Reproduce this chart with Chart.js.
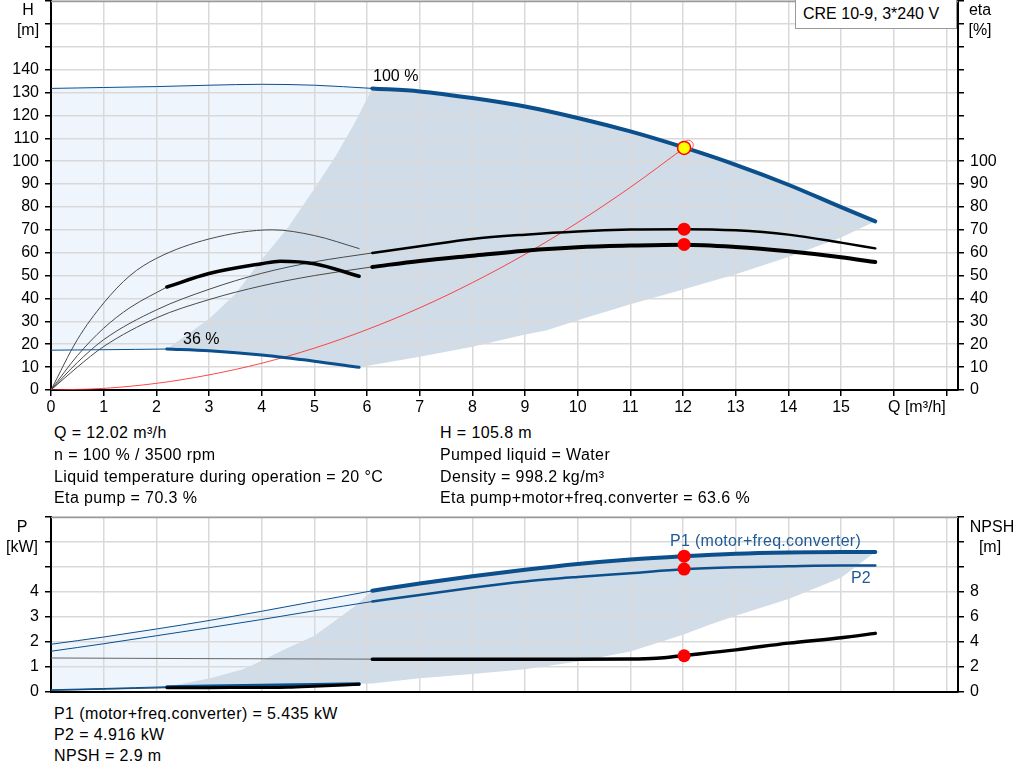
<!DOCTYPE html>
<html>
<head>
<meta charset="utf-8">
<script src="https://cdn.jsdelivr.net/npm/chart.js@4.4.1/dist/chart.umd.min.js"></script>
<style>
html,body{margin:0;padding:0;background:#fff;width:1024px;height:781px;overflow:hidden;font-family:"Liberation Sans",Arial,sans-serif;}
.t{position:absolute;font-size:16px;color:#000;white-space:nowrap;line-height:16px;}
.info{letter-spacing:0.4px;}
.c{text-align:center;}
#w1{position:absolute;left:0;top:0;width:1024px;height:420px;}
#w2{position:absolute;left:0;top:505px;width:1024px;height:200px;}
#box{position:absolute;left:795px;top:0;width:162px;height:29px;border:1px solid #9a9a9a;border-top:none;background:#fff;font-size:16px;line-height:28px;padding-left:7px;box-sizing:border-box;}
.blue{color:#1f5a96;}
</style>
</head>
<body>
<div id="w1"><canvas id="c1" width="1024" height="420"></canvas></div>
<div id="w2"><canvas id="c2" width="1024" height="200"></canvas></div>

<div id="box">CRE 10-9, 3*240 V</div>
<div class="t c" style="left:8px;top:2px;width:40px;">H</div>
<div class="t c" style="left:8px;top:22px;width:40px;">[m]</div>
<div class="t c" style="left:960px;top:2px;width:40px;">eta</div>
<div class="t c" style="left:960px;top:22px;width:40px;">[%]</div>
<div class="t" style="left:373px;top:68px;">100 %</div>
<div class="t" style="left:183px;top:331px;">36 %</div>
<div class="t" style="left:888px;top:399px;">Q [m³/h]</div>

<div class="t info" style="left:54px;top:425px;">Q = 12.02 m³/h</div>
<div class="t info" style="left:54px;top:447px;">n = 100 % / 3500 rpm</div>
<div class="t info" style="left:54px;top:469px;">Liquid temperature during operation = 20 °C</div>
<div class="t info" style="left:54px;top:490px;">Eta pump = 70.3 %</div>
<div class="t info" style="left:440px;top:425px;">H = 105.8 m</div>
<div class="t info" style="left:440px;top:447px;">Pumped liquid = Water</div>
<div class="t info" style="left:440px;top:469px;">Density = 998.2 kg/m³</div>
<div class="t info" style="left:440px;top:490px;">Eta pump+motor+freq.converter = 63.6 %</div>

<div class="t c" style="left:2px;top:519px;width:40px;">P</div>
<div class="t c" style="left:2px;top:539px;width:40px;">[kW]</div>
<div class="t c" style="left:965px;top:519px;width:54px;">NPSH</div>
<div class="t c" style="left:965px;top:539px;width:50px;">[m]</div>
<div class="t blue" style="left:670px;top:533px;letter-spacing:0.3px;">P1 (motor+freq.converter)</div>
<div class="t blue" style="left:851px;top:570px;">P2</div>

<div class="t info" style="left:54px;top:706px;">P1 (motor+freq.converter) = 5.435 kW</div>
<div class="t info" style="left:54px;top:727px;">P2 = 4.916 kW</div>
<div class="t info" style="left:54px;top:748px;">NPSH = 2.9 m</div>

<script>
// ---------------- DATA ----------------
// Q–H curves [m³/h, m]
const q100Thin = [0, 1, 2, 3, 4, 5, 6.1];
const h100Thin = [131.8, 132.2, 132.6, 133.2, 133.6, 133.2, 131.8];
const q100 = [6.1, 7, 8, 9, 10, 11, 12, 13, 14, 15, 15.65];
const h100 = [131.8, 130.5, 127.6, 123.9, 118.9, 113.0, 106.1, 98.4, 89.7, 79.9, 73.7];
const q36Thin = [0, 1, 2.2];
const h36Thin = [17.4, 17.6, 17.9];
const q36 = [2.2, 3, 4, 5, 5.85];
const h36 = [17.9, 17.1, 15.3, 12.6, 9.9];

// efficiency curves [%] (100 % speed on q100)
const etaPump100 = [59.9, 62.8, 66.0, 67.9, 69.3, 70.1, 70.3, 69.8, 67.9, 64.4, 61.9];
const etaTot100 = [53.8, 56.4, 58.7, 60.9, 62.4, 63.1, 63.5, 62.5, 60.6, 58.0, 55.9];
const qEtaThin = [0, 0.5, 1, 2, 3, 4, 5, 6.1];
const etaPump100Thin = [0, 12, 22, 35, 44, 51, 56, 59.9];
const etaTot100Thin = [0, 10, 19, 31.5, 39.5, 45.5, 50, 53.8];
const qEtaPump36 = [0, 0.5, 1, 1.5, 2, 3, 4.2, 5, 5.85];
const etaPump36 = [0, 22, 38, 50, 57.5, 66, 70, 67.5, 61.8];
const qEtaTot36Thin = [0, 0.5, 1, 1.5, 2.2];
const etaTot36Thin = [0, 15, 27, 36, 45];
const qEtaTot36 = [2.2, 3, 4, 4.35, 5, 5.85];
const etaTot36 = [45, 50.9, 55.2, 56.3, 55.2, 49.7];

// system curve [m]
const qSystem = [0, 1, 2, 3, 4, 5, 6, 7, 8, 9, 10, 11, 12.02];
const hSystem = [0, 0.7, 2.9, 6.6, 11.7, 18.3, 26.4, 35.9, 46.9, 59.3, 73.2, 88.6, 105.8];

// duty point
const qDuty = 12.02, hDuty = 105.8, etaPumpDuty = 70.3, etaTotDuty = 63.6;
const p1Duty = 5.435, p2Duty = 4.916, npshDuty = 2.9;

// operating range boundaries (Q–H)
const qGrayLeft = [2.2, 3, 3.5, 4, 4.5, 5, 5.4, 5.75, 6.1];
const hGrayLeft = [17.9, 31, 42, 57, 71, 88, 102, 116, 131.8];
const qGrayLow = [5.85, 7, 8, 9, 9.4, 10, 11, 12, 13, 14, 15, 15.65];
const hGrayLow = [9.9, 14.5, 18.9, 24.3, 26, 30.5, 37.5, 43.9, 50.6, 58.1, 66.6, 73.7];

// power [kW] and NPSH [m]
const qPThin = [0, 1, 2, 3, 4, 5, 6.1];
const p1Thin = [1.91, 2.2, 2.52, 2.86, 3.23, 3.62, 4.05];
const p2Thin = [1.63, 1.93, 2.25, 2.57, 2.9, 3.25, 3.62];
const p1 = [4.05, 4.34, 4.63, 4.89, 5.12, 5.3, 5.43, 5.53, 5.58, 5.6, 5.6];
const p2 = [3.62, 3.88, 4.17, 4.42, 4.6, 4.75, 4.91, 4.99, 5.03, 5.06, 5.06];
const qNpshThin = [0, 3, 6.1];
const npshThin = [2.72, 2.67, 2.63];
const qNpsh = [6.1, 7, 8, 9, 10, 11, 11.5, 12, 13, 14, 15, 15.65];
const npsh = [2.63, 2.63, 2.63, 2.63, 2.63, 2.64, 2.7, 2.92, 3.37, 3.91, 4.34, 4.69];
const p1_36Thin = [0.09, 0.14, 0.21];
const p2_36Thin = [0.07, 0.12, 0.18];
const p1_36 = [0.21, 0.24, 0.27, 0.3, 0.33];
const p2_36 = [0.18, 0.2, 0.23, 0.26, 0.29];
const qNpsh36Thin = [0, 2.2];
const npsh36Thin = [0.12, 0.34];
const qNpsh36 = [2.2, 3, 4, 4.5, 5, 5.85];
const npsh36 = [0.34, 0.35, 0.36, 0.38, 0.46, 0.62];

// operating range boundaries (Q–P)
const qPGrayLeft = [2.2, 3.02, 3.65, 4.03, 4.41, 5.0, 5.42, 5.77, 6.1];
const pGrayLeft = [0.21, 0.55, 0.91, 1.28, 1.68, 2.25, 2.89, 3.43, 4.05];
const qPGrayLow = [5.85, 6.1, 7, 8, 9, 10, 11, 12, 12.5, 13, 14, 15, 15.65];
const pGrayLow = [0.33, 0.34, 0.55, 0.72, 0.91, 1.22, 1.62, 2.29, 2.69, 3.05, 3.72, 4.57, 5.6];

// axis tick label ranges
const qLabelMax = 15, hLabelMax = 140, etaLabelMax = 100, pLabelMax = 4, npshLabelMax = 8;

// ---------------- helpers ----------------
const pts = (xs, ys) => xs.map((x, i) => ({x: x, y: ys[i]}));
const rev = a => a.slice().reverse();

const BLUE = '#0b4f8c', LIGHT = '#eef5fd', GRAY = '#d0dce7', THIN = '#4a4a4a';

function curve(data, color, width, axis, order) {
  return {data: data, showLine: true, borderColor: color, borderWidth: width, pointRadius: 0,
    cubicInterpolationMode: 'monotone', yAxisID: axis, order: order, fill: false,
    borderCapStyle: 'round', borderJoinStyle: 'round'};
}
function area(data, color, axis, order) {
  return {data: data, showLine: true, borderColor: 'rgba(0,0,0,0)', borderWidth: 1, pointRadius: 0,
    tension: 0, yAxisID: axis, order: order, fill: 'shape', backgroundColor: color};
}
function dots(data, axis, fillC, borderC, bw, r, order) {
  return {data: data, showLine: false, pointRadius: r, pointHoverRadius: r,
    pointBackgroundColor: fillC, pointBorderColor: borderC, pointBorderWidth: bw, yAxisID: axis, order: order};
}

Chart.defaults.font.family = '"Liberation Sans", Arial, sans-serif';
Chart.defaults.font.size = 16;
Chart.defaults.color = '#000';

const topBorder = {
  id: 'topBorder',
  afterDraw(chart) {
    const a = chart.chartArea, ctx = chart.ctx;
    ctx.save();
    ctx.strokeStyle = '#9a9a9a';
    ctx.lineWidth = 1.5;
    ctx.beginPath();
    ctx.moveTo(a.left, a.top + 0.5);
    ctx.lineTo(a.right, a.top + 0.5);
    ctx.stroke();
    ctx.restore();
  }
};

const gridOpts = {color: '#d9d9d9', lineWidth: 1.5, tickLength: 6, tickColor: '#000', tickWidth: 1.5};
const borderOpts = {color: '#000', width: 2};

function xScale(showLabels, h) {
  return {type: 'linear', min: 0, max: 17.22, position: 'bottom',
    ticks: {stepSize: 1, includeBounds: false, autoSkip: false, maxRotation: 0, padding: 2,
      display: showLabels, callback: v => (v <= qLabelMax ? String(v) : '')},
    grid: Object.assign({}, gridOpts, showLabels ? {} : {drawTicks: false, tickLength: 0}),
    border: borderOpts,
    afterFit: s => { s.height = h; s.paddingLeft = 0; s.paddingRight = 0; s.paddingTop = 0; s.paddingBottom = 0; }};
}
function yScale(pos, max, step, labelMax, width, onArea) {
  return {type: 'linear', position: pos, min: 0, max: max,
    ticks: {stepSize: step, includeBounds: false, padding: 6, autoSkip: false,
      callback: v => (v <= labelMax ? String(v) : '')},
    grid: Object.assign({}, gridOpts, {drawOnChartArea: onArea}),
    border: borderOpts,
    afterFit: s => { s.width = width; s.paddingTop = 0; s.paddingBottom = 0; s.paddingLeft = 0; s.paddingRight = 0; }};
}

const baseOptions = {
  responsive: false, animation: false, events: [],
  plugins: {legend: {display: false}, tooltip: {enabled: false}, filler: {drawTime: 'beforeDraw'}}
};

// ---------------- upper chart ----------------
const lightUpper = [...pts(q100Thin, h100Thin), ...pts(rev(q36), rev(h36)), ...pts(rev(q36Thin), rev(h36Thin))];
const grayUpper = [...pts(qGrayLeft, hGrayLeft), ...pts(q100, h100).slice(1),
  ...pts(rev(qGrayLow), rev(hGrayLow)).slice(1), ...pts(rev(q36), rev(h36)).slice(1)];

new Chart(document.getElementById('c1'), {
  type: 'scatter',
  data: {datasets: [
    area(grayUpper, GRAY, 'y', 200),
    area(lightUpper, LIGHT, 'y', 210),
    curve(pts(q100Thin, h100Thin), BLUE, 1, 'y', 40),
    curve(pts(q100, h100), BLUE, 4, 'y', 20),
    curve(pts(q36Thin, h36Thin), BLUE, 1, 'y', 40),
    curve(pts(q36, h36), BLUE, 3, 'y', 20),
    curve(pts(qEtaThin, etaPump100Thin), THIN, 1, 'eta', 40),
    curve(pts(qEtaThin, etaTot100Thin), THIN, 1, 'eta', 40),
    curve(pts(qEtaPump36, etaPump36), THIN, 1, 'eta', 40),
    curve(pts(qEtaTot36Thin, etaTot36Thin), THIN, 1, 'eta', 40),
    curve(pts(qEtaTot36, etaTot36), '#000', 3.5, 'eta', 20),
    curve(pts(q100, etaPump100), '#000', 2.5, 'eta', 20),
    curve(pts(q100, etaTot100), '#000', 4, 'eta', 20),
    curve(pts(qSystem, hSystem), 'rgba(255,40,40,0.85)', 1, 'y', 30),
    dots([{x: 12.1, y: 107}], 'y', 'rgba(0,0,0,0)', '#ff5a5a', 1, 5, 6),
    dots([{x: qDuty, y: hDuty}], 'y', '#ffff00', '#ff0000', 1.5, 6.5, 5),
    dots([{x: qDuty, y: etaPumpDuty}, {x: qDuty, y: etaTotDuty}], 'eta', '#ff0000', '#ff0000', 0, 6.5, 5)
  ]},
  options: Object.assign({}, baseOptions, {
    layout: {autoPadding: false, padding: {top: 1, left: 0, right: 0, bottom: 0}},
    scales: {
      x: xScale(true, 30),
      y: yScale('left', 170, 10, hLabelMax, 51, true),
      eta: yScale('right', 170, 10, etaLabelMax, 66, false)
    }
  }),
  plugins: [topBorder]
});

// ---------------- lower chart ----------------
const lightLower = [...pts(qPThin, p1Thin), ...pts(rev(q36), rev(p1_36)), ...pts(rev(q36Thin), rev(p1_36Thin))];
const grayLower = [...pts(qPGrayLeft, pGrayLeft), ...pts(q100, p1).slice(1),
  ...pts(rev(qPGrayLow), rev(pGrayLow)).slice(1), ...pts(rev(q36), rev(p1_36)).slice(1)];

new Chart(document.getElementById('c2'), {
  type: 'scatter',
  data: {datasets: [
    area(grayLower, GRAY, 'p', 200),
    area(lightLower, LIGHT, 'p', 210),
    curve(pts(qPThin, p1Thin), BLUE, 1, 'p', 40),
    curve(pts(qPThin, p2Thin), BLUE, 1, 'p', 40),
    curve(pts(q100, p1), BLUE, 4, 'p', 20),
    curve(pts(q100, p2), BLUE, 2.5, 'p', 20),
    curve(pts(qNpshThin, npshThin), '#666', 1, 'npsh', 40),
    curve(pts(qNpsh, npsh), '#000', 3.5, 'npsh', 20),
    curve(pts(q36Thin, p1_36Thin), BLUE, 1, 'p', 40),
    curve(pts(q36Thin, p2_36Thin), BLUE, 1, 'p', 40),
    curve(pts(q36, p1_36), BLUE, 3, 'p', 22),
    curve(pts(q36, p2_36), BLUE, 2, 'p', 22),
    curve(pts(qNpsh36Thin, npsh36Thin), '#666', 1, 'npsh', 40),
    curve(pts(qNpsh36, npsh36), '#000', 3, 'npsh', 21),
    dots([{x: qDuty, y: p1Duty}, {x: qDuty, y: p2Duty}], 'p', '#ff0000', '#ff0000', 0, 6.5, 5),
    dots([{x: qDuty, y: npshDuty}], 'npsh', '#ff0000', '#ff0000', 0, 6.5, 5)
  ]},
  options: Object.assign({}, baseOptions, {
    layout: {autoPadding: false, padding: {top: 12, left: 0, right: 0, bottom: 0}},
    scales: {
      x: xScale(false, 13),
      p: yScale('left', 7, 1, pLabelMax, 51, true),
      npsh: yScale('right', 14, 2, npshLabelMax, 66, false)
    }
  }),
  plugins: [topBorder]
});
</script>
</body>
</html>
